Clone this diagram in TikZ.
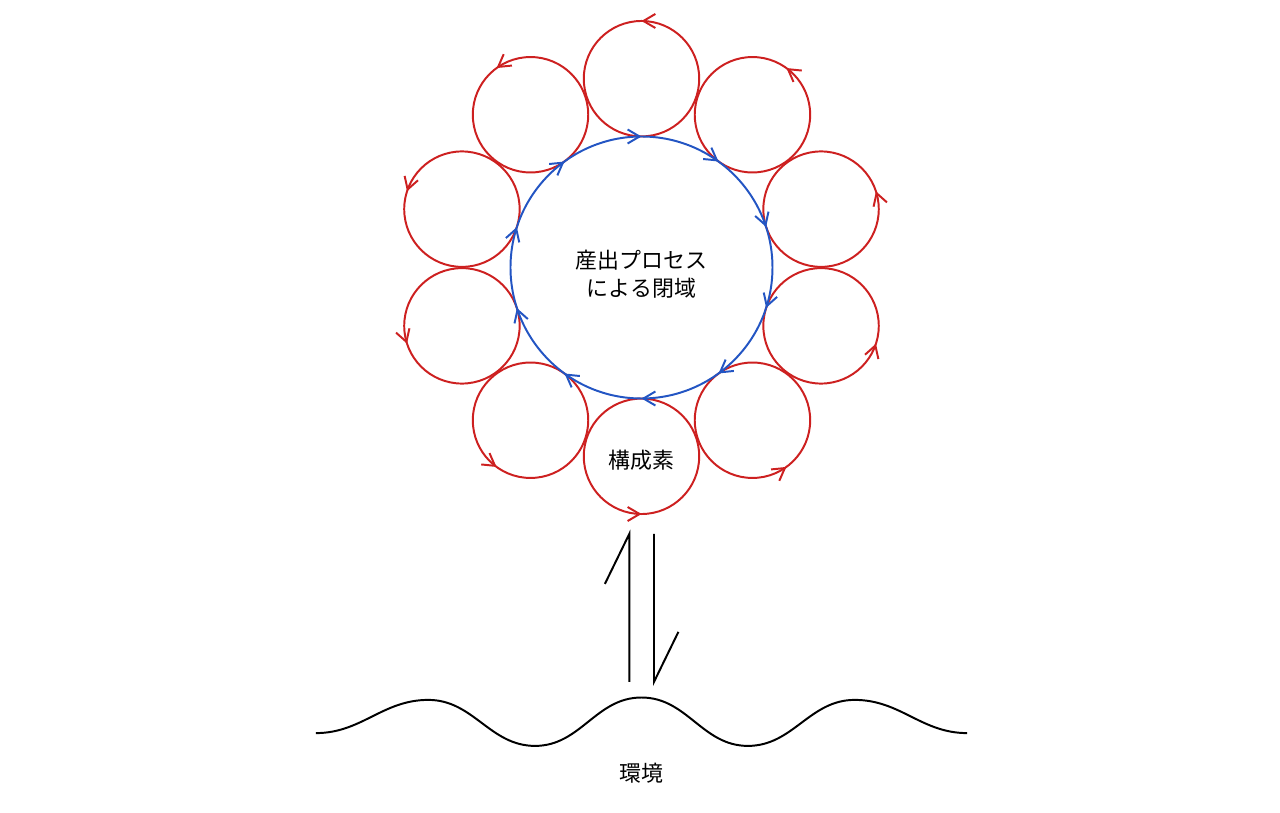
\documentclass[tikz,border=0pt]{standalone}
\usepackage{fontspec}
\setmainfont{Noto Sans CJK JP}
\usetikzlibrary{arrows.meta,decorations.markings}
\definecolor{loopred}{RGB}{205,32,32}
\definecolor{loopblue}{RGB}{35,85,195}

\begin{document}
\begin{tikzpicture}[
  loopbarb/.tip={Straight Barb[length=8.5pt,width=10pt]},
  part/.style={circle,draw=loopred,line width=1.4pt,minimum size=2.886cm,inner sep=0pt,
    postaction={decorate,decoration={markings,mark=at position #1 with {\arrow{loopbarb}}}}},
  closure/.style={circle,draw=loopblue,line width=1.4pt,minimum size=6.55cm,inner sep=0pt,
    postaction={decorate,decoration={markings,mark=between positions 0.05 and 0.99 step 0.1 with {\arrowreversed{loopbarb}}}}},
  flow/.style={line width=1.4pt},
  word/.style={font=\fontsize{15.6pt}{19.9pt}\selectfont,align=center,inner sep=0pt}
]
\useasboundingbox (-16.0375,-13.6375) rectangle (15.9625,6.6875);

% Draw the ring of components
\foreach \i [evaluate=\i as \pos using 0.05+0.1*\i] in {0,...,9} {
    \node[part=\pos] (part\i) at (18+36*\i:4.72) {};
}

% Draw the closed domain of the production processes
\node[closure] (proc) at (0,0) {};
\node[word] (proclabel) at (0,-0.16) {産出プロセス\\による閉域};
\node[word] (elem) at ([yshift=-0.1cm]part7.center) {構成素};

% Draw the exchange with the environment
\coordinate (uptail) at (-0.305,-10.36);
\coordinate (uphead) at (-0.305,-6.66);
\coordinate (downtail) at (0.3125,-6.66);
\coordinate (downhead) at (0.3125,-10.36);
\draw[flow] (uptail) -- (uphead) -- ++(-0.61,-1.25);
\draw[flow] (downtail) -- (downhead) -- ++(0.61,1.25);

% Draw the environment
\draw[flow] (-8.14,-11.64) to[out=0,in=180] (-5.33,-10.81) to[out=0,in=180] (-2.66,-11.96)
    to[out=0,in=180] (0,-10.75) to[out=0,in=180] (2.66,-11.96)
    to[out=0,in=180] (5.33,-10.81) to[out=0,in=180] (8.14,-11.64);
\node[word] (env) at (0,-12.64) {環境};

\end{tikzpicture}
\end{document}
